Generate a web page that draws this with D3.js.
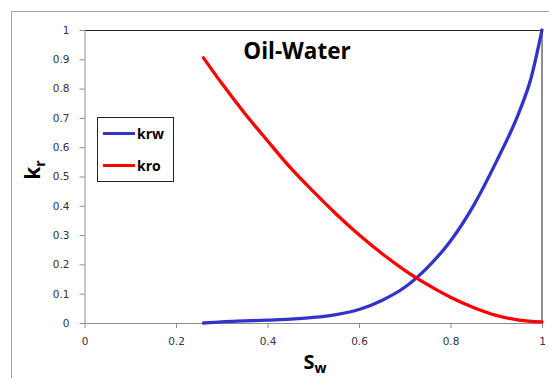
<!DOCTYPE html>
<html>
<head>
<meta charset="utf-8">
<script src="https://cdn.jsdelivr.net/npm/d3@7"></script>
<style>
  body { margin: 0; background: #fff; }
  .axis text { font-family: "DejaVu Sans", sans-serif; font-size: 10.5px; fill: #333; }
  .axis path, .axis line { stroke: #8c8c8c; }
</style>
</head>
<body>
<svg width="549" height="378"></svg>
<script>
// water saturation and relative permeabilities
const swKrw = [0.26, 0.30, 0.35, 0.40, 0.45, 0.50, 0.55, 0.60, 0.65, 0.70, 0.75, 0.80, 0.85, 0.90, 0.95, 0.975, 1.00];
const krw   = [0.0, 0.004, 0.007, 0.010, 0.013, 0.019, 0.029, 0.046, 0.077, 0.122, 0.19, 0.28, 0.40, 0.55, 0.72, 0.83, 1.0];
const swKro = [0.26, 0.30, 0.35, 0.40, 0.45, 0.50, 0.55, 0.60, 0.65, 0.70, 0.75, 0.80, 0.85, 0.90, 0.95, 1.00];
const kro   = [0.905, 0.818, 0.716, 0.622, 0.530, 0.449, 0.372, 0.301, 0.237, 0.180, 0.131, 0.088, 0.053, 0.026, 0.010, 0.004];
const xTicks = [0, 0.2, 0.4, 0.6, 0.8, 1];
const yTicks = [0, 0.1, 0.2, 0.3, 0.4, 0.5, 0.6, 0.7, 0.8, 0.9, 1];
const series = [
  {name: 'krw', color: '#3333cc', data: swKrw.map((s, i) => ({sw: s, k: krw[i]}))},
  {name: 'kro', color: '#ff0000', data: swKro.map((s, i) => ({sw: s, k: kro[i]}))}
];

let svg = d3.select('svg');

const margin = {top: 30, right: 7, bottom: 55, left: 84.5},
    width = +svg.attr('width') - margin.left - margin.right,
    height = +svg.attr('height') - margin.top - margin.bottom;

// outer chart frame
svg.append('rect')
    .attr('x', 11.5).attr('y', 11.5)
    .attr('width', 560).attr('height', 400)
    .attr('fill', 'none').attr('stroke', '#a6a6a6');

let g = svg.append('g').attr('transform', `translate(${margin.left}, ${margin.top})`);

let x = d3.scaleLinear().domain([0, 1]).range([0, width]),
    y = d3.scaleLinear().domain([0, 1]).range([height, 0]);

// top + right border of plot area
g.append('path')
    .attr('d', `M0,0.5H${width}V${height}`)
    .attr('fill', 'none')
    .attr('stroke', '#222');

g.append('g')
    .attr('class', 'axis axis--x')
    .attr('transform', `translate(0, ${height})`)
    .call(d3.axisBottom(x).tickValues(xTicks).tickSize(5).tickPadding(10).tickFormat(d3.format('')));

g.append('g')
    .attr('class', 'axis axis--y')
    .call(d3.axisLeft(y).tickValues(yTicks).tickSize(5).tickPadding(10).tickFormat(d3.format('')));

g.selectAll('.axis path').attr('d', function() {
  return d3.select(this.parentNode).classed('axis--x') ? `M0,0.5H${width}` : `M0.5,0V${height}`;
});

const line = d3.line()
    .x(d => x(d.sw))
    .y(d => y(d.k))
    .curve(d3.curveMonotoneX);

g.selectAll('.curve')
  .data(series)
  .enter().append('path')
    .attr('class', 'curve')
    .attr('d', d => line(d.data))
    .attr('fill', 'none')
    .attr('stroke', d => d.color)
    .attr('stroke-width', 3.3)
    .attr('stroke-linecap', 'round');

// title
svg.append('text')
    .attr('x', 297).attr('y', 59)
    .attr('text-anchor', 'middle')
    .style('font', 'bold 22.5px "Open Sans", sans-serif')
    .text('Oil-Water');

// legend
let legend = svg.append('g');
legend.append('rect')
    .attr('x', 97.5).attr('y', 117.5)
    .attr('width', 76).attr('height', 64)
    .attr('fill', '#fff').attr('stroke', '#222');
series.forEach((s, i) => {
  const ly = 133.5 + i * 32;
  legend.append('line')
      .attr('x1', 103).attr('x2', 135)
      .attr('y1', ly).attr('y2', ly)
      .attr('stroke', s.color).attr('stroke-width', 3);
  legend.append('text')
      .attr('x', 137).attr('y', ly + 5)
      .style('font', 'bold 14px "Open Sans", sans-serif')
      .text(s.name);
});

// axis titles
let yl = svg.append('text')
    .attr('transform', 'translate(40, 170) rotate(-90)')
    .attr('text-anchor', 'middle')
    .style('font', 'bold 21px "Open Sans", sans-serif');
yl.append('tspan').text('k');
yl.append('tspan').attr('dy', 5).style('font-size', '14px').text('r');

let xl = svg.append('text')
    .attr('x', 315).attr('y', 369)
    .attr('text-anchor', 'middle')
    .style('font', 'bold 20px "Open Sans", sans-serif');
xl.append('tspan').text('S');
xl.append('tspan').attr('dy', 4).style('font-size', '14px').text('w');
</script>
</body>
</html>
